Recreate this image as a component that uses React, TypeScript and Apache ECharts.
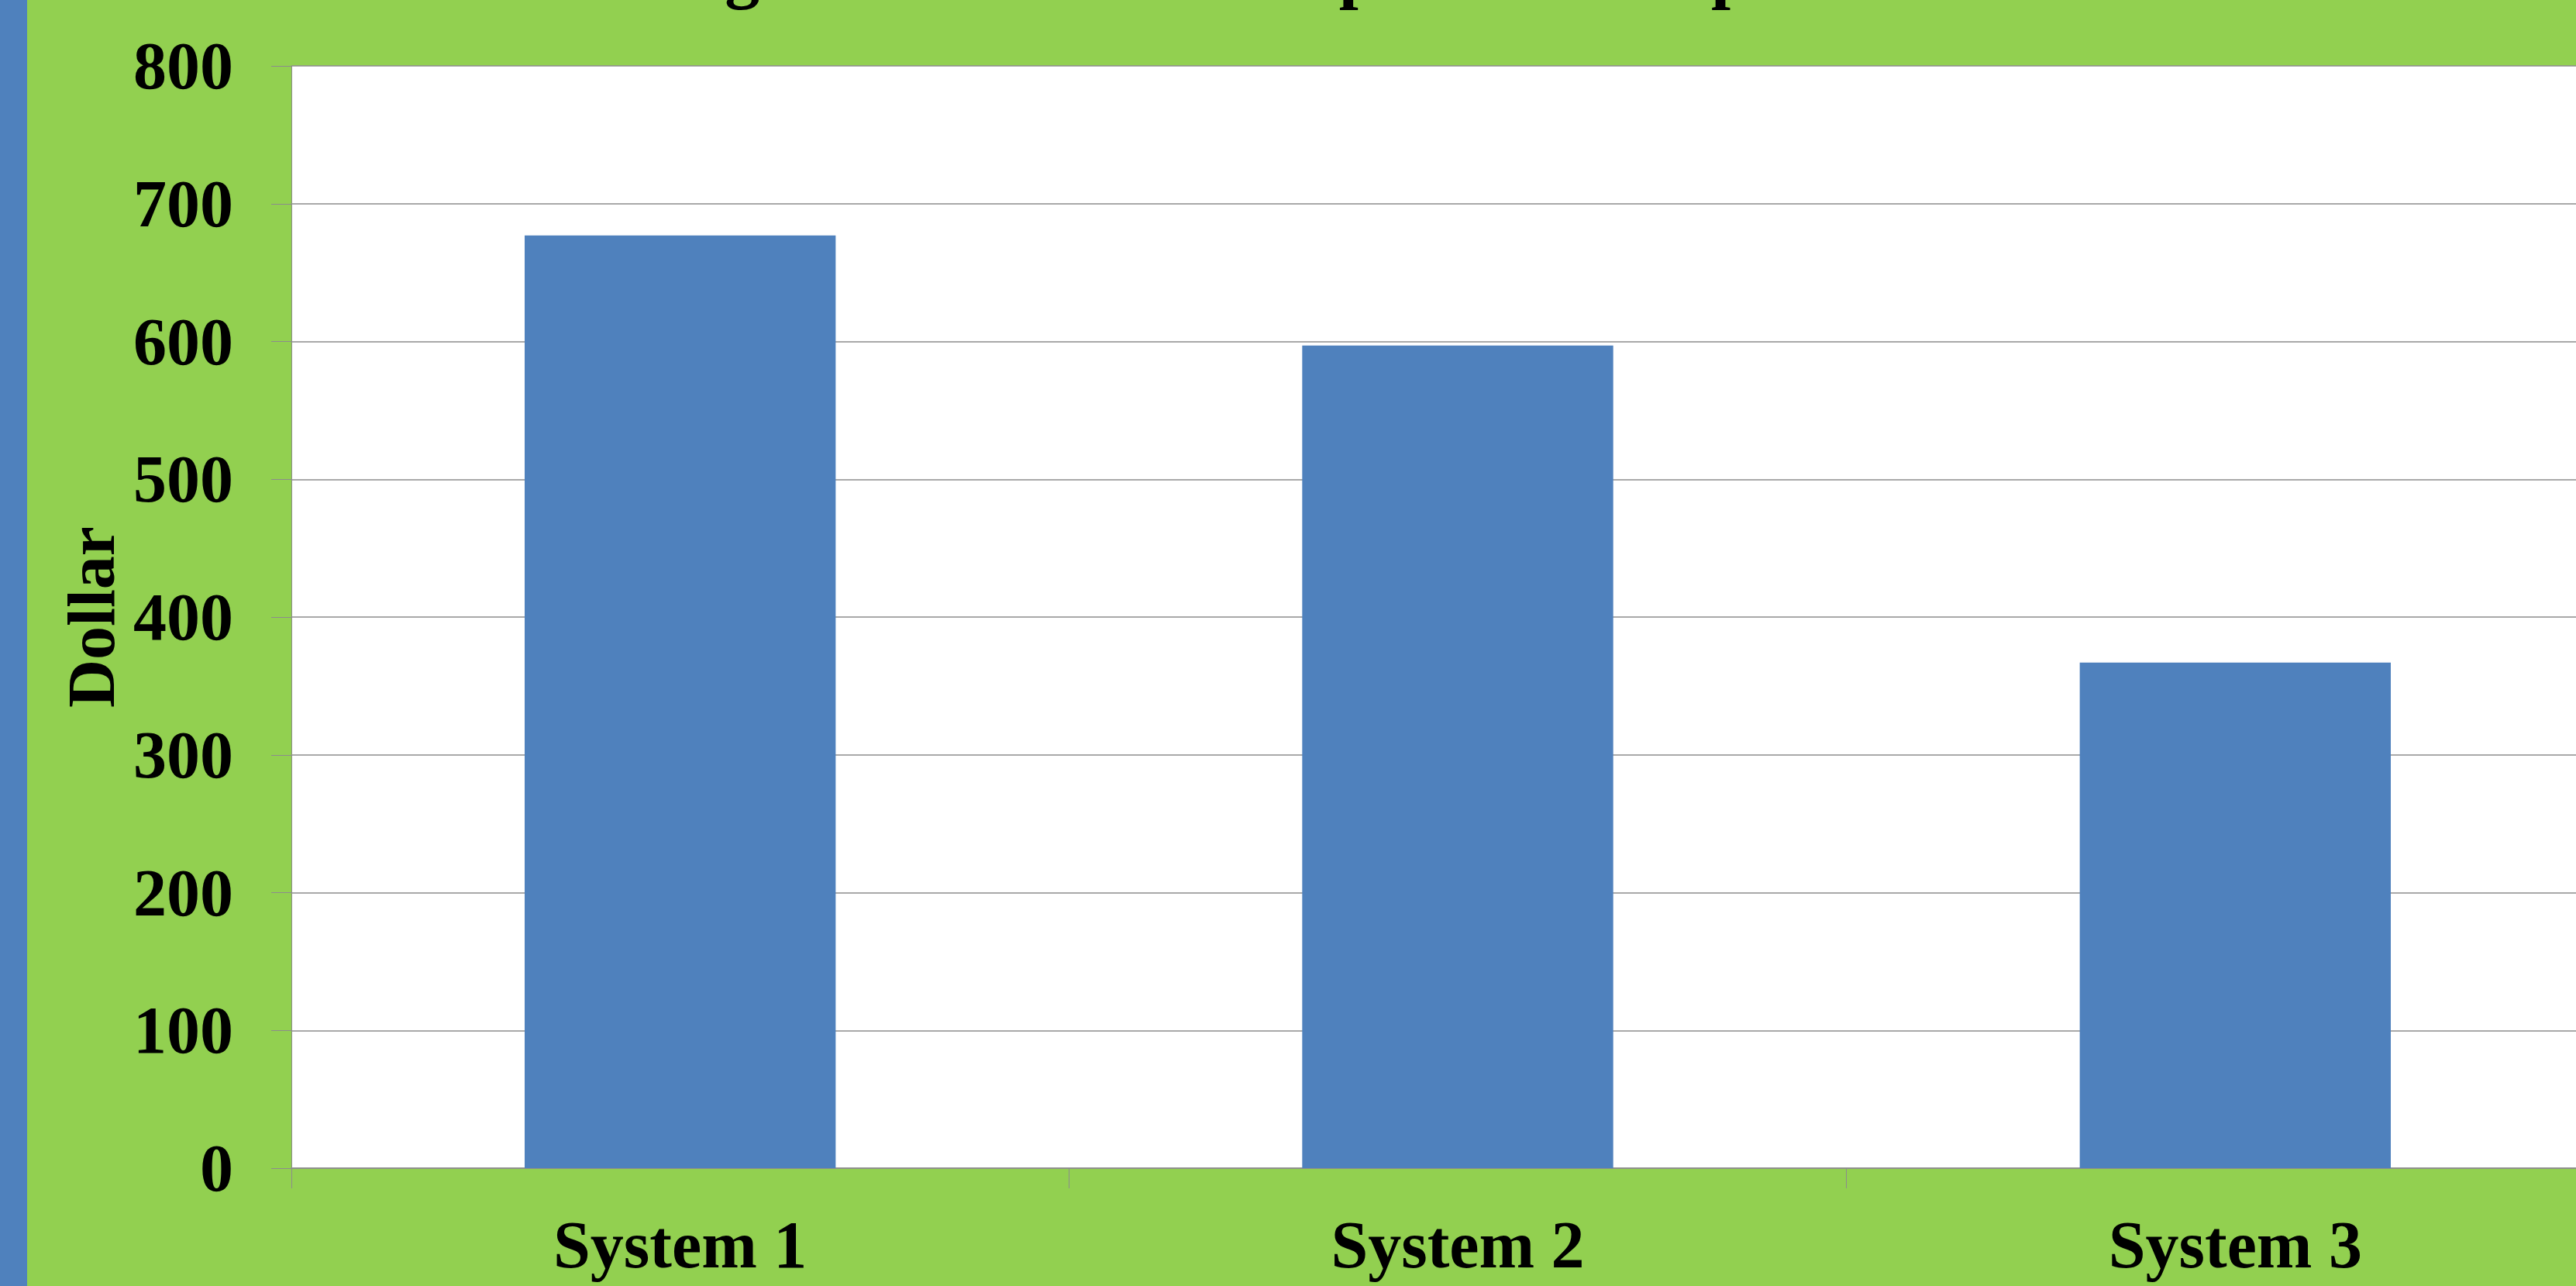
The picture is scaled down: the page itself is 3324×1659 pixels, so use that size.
import React, { useEffect, useRef } from "react";
import * as echarts from "echarts";

const titleText = "Average Annual Cost Comparison of Options";
const categories = ["System 1", "System 2", "System 3"];
const values = [677, 597, 367];
const yTicks = { min: 0, max: 800, interval: 100 };
const yAxisName = "Dollar";

const FONT = "'Liberation Serif', 'Times New Roman', Times, serif";
const GREEN = "#92D050";
const BLUE = "#4F81BD";
const GRAY = "#8c8c8c";

const CHART_W = 3386;
const CHART_H = 1659;

export default function App() {
  const ref = useRef<HTMLDivElement>(null);
  useEffect(() => {
    document.body.style.margin = "0";
    document.body.style.overflow = "hidden";
    const chart = echarts.init(ref.current!, null, { renderer: "svg" });
    chart.setOption({
      animation: false,
      backgroundColor: GREEN,
      title: {
        text: titleText,
        left: 1575,
        top: -82,
        padding: 0,
        textAlign: "center",
        textStyle: { fontFamily: FONT, fontWeight: "bold", fontSize: 90, color: "#000" },
      },
      graphic: [
        { type: "rect", left: 0, top: 0, shape: { x: 0, y: 0, width: 35, height: CHART_H }, style: { fill: BLUE }, z: 100 },
      ],
      grid: {
        left: 376,
        top: 85,
        right: 0,
        bottom: 152,
        show: true,
        backgroundColor: "#ffffff",
        borderWidth: 0,
        containLabel: false,
      },
      xAxis: {
        type: "category",
        data: categories,
        axisLine: { show: true, lineStyle: { color: GRAY, width: 1.5 } },
        axisTick: { show: true, length: 26, alignWithLabel: false, interval: 0, lineStyle: { color: GRAY, width: 1 } },
        axisLabel: { margin: 56, fontFamily: FONT, fontWeight: "bold", fontSize: 86, color: "#000", interval: 0 },
        splitLine: { show: false },
      },
      yAxis: {
        type: "value",
        min: yTicks.min,
        max: yTicks.max,
        interval: yTicks.interval,
        name: yAxisName,
        nameLocation: "middle",
        nameRotate: 90,
        nameGap: 213,
        nameTextStyle: { fontFamily: FONT, fontWeight: "bold", fontSize: 86, color: "#000" },
        axisLine: { show: true, lineStyle: { color: GRAY, width: 1 } },
        axisTick: { show: true, length: 26, lineStyle: { color: GRAY, width: 1 } },
        axisLabel: { margin: 75, fontFamily: FONT, fontWeight: "bold", fontSize: 86, color: "#000" },
        splitLine: { show: true, lineStyle: { color: GRAY, width: 1.5 } },
      },
      series: [
        {
          type: "bar",
          data: values,
          barWidth: "40%",
          itemStyle: { color: BLUE },
        },
      ],
    });
    return () => chart.dispose();
  }, []);
  return (
    <div
      ref={ref}
      style={{ position: "fixed", left: 0, top: 0, width: CHART_W, height: CHART_H }}
    />
  );
}
